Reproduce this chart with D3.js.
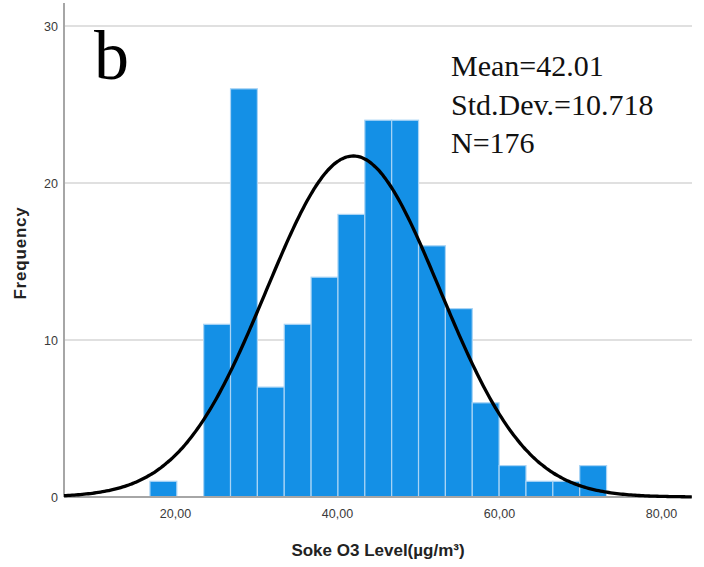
<!DOCTYPE html>
<html>
<head>
<meta charset="utf-8">
<script src="https://cdn.jsdelivr.net/npm/d3@7"></script>
<style>
    body { margin: 0; background: #ffffff; }
    svg { display: block; }
</style>
</head>
<body>
<div id="chart"></div>
<script>
// histogram data
var binStart = 16.91;
var binWidth = 3.316;
var counts = [1, 0, 11, 26, 7, 11, 14, 18, 24, 24, 16, 12, 6, 2, 1, 1, 2];
var xTicks = [20, 40, 60, 80];
var yTicks = [0, 10, 20, 30];
var meanVal = 42.01;
var sdVal = 10.718;
var nVal = 176;
var statLines = ["Mean=42.01", "Std.Dev.=10.718", "N=176"];

var width = 704, height = 567;

var svg = d3.select("#chart")
    .append("svg")
    .attr("width", width)
    .attr("height", height);

var x = d3.scaleLinear().domain([6.3, 83.83]).range([64, 692]);
var y = d3.scaleLinear().domain([0, 30]).range([497, 26]);

// gridlines
svg.append("g")
    .selectAll("line")
    .data(yTicks.filter(function(d){ return d > 0; }))
    .enter()
    .append("line")
    .attr("x1", x(6.3))
    .attr("x2", x(83.83))
    .attr("y1", function(d){ return y(d); })
    .attr("y2", function(d){ return y(d); })
    .attr("stroke", "#d6d6d6")
    .attr("stroke-width", 1.5);

// bars
var bins = counts.map(function(c, i){
    return {x0: binStart + i * binWidth, x1: binStart + (i + 1) * binWidth, n: c};
});

svg.append("g")
    .selectAll("rect")
    .data(bins.filter(function(d){ return d.n > 0; }))
    .enter()
    .append("rect")
    .attr("x", function(d){ return x(d.x0); })
    .attr("width", function(d){ return x(d.x1) - x(d.x0); })
    .attr("y", function(d){ return y(d.n); })
    .attr("height", function(d){ return y(0) - y(d.n); })
    .attr("fill", "#1490e6")
    .attr("stroke", "#a9d4f5")
    .attr("stroke-width", 1.2);

// axes
var yAxis = d3.axisLeft(y).tickValues(yTicks).tickSize(0).tickPadding(6);
var gy = svg.append("g")
    .attr("transform", "translate(" + x(6.3) + ",0)")
    .call(yAxis);
gy.select(".domain").remove();
gy.selectAll("text")
    .attr("font-family", "Liberation Sans, Arial, sans-serif")
    .attr("font-size", 12.5)
    .attr("fill", "#3a3a3a");

var xAxis = d3.axisBottom(x).tickValues(xTicks).tickSize(0).tickPadding(12)
    .tickFormat(function(d){ return d3.format(".2f")(d).replace(".", ","); });
var gx = svg.append("g")
    .attr("transform", "translate(0," + y(0) + ")")
    .call(xAxis);
gx.select(".domain").remove();
gx.selectAll("text")
    .attr("font-family", "Liberation Sans, Arial, sans-serif")
    .attr("font-size", 12.5)
    .attr("fill", "#3a3a3a");

svg.append("line")
    .attr("x1", x(6.3)).attr("x2", x(6.3))
    .attr("y1", y(31.46)).attr("y2", y(0))
    .attr("stroke", "#a6a6a6")
    .attr("stroke-width", 2);

svg.append("line")
    .attr("x1", x(6.3)).attr("x2", x(83.83))
    .attr("y1", y(0)).attr("y2", y(0))
    .attr("stroke", "#a6a6a6")
    .attr("stroke-width", 2);

// normal curve
var curvePts = d3.range(6.3, 83.84, 0.25).map(function(v){
    var z = (v - meanVal) / sdVal;
    return [v, nVal * binWidth * Math.exp(-0.5 * z * z) / (sdVal * Math.sqrt(2 * Math.PI))];
});

svg.append("path")
    .datum(curvePts)
    .attr("fill", "none")
    .attr("stroke", "#000")
    .attr("stroke-width", 3.3)
    .attr("d", d3.line()
        .x(function(d){ return x(d[0]); })
        .y(function(d){ return y(d[1]); })
        .curve(d3.curveBasis));

// axis titles
svg.append("text")
    .attr("x", 378)
    .attr("y", 556)
    .attr("text-anchor", "middle")
    .attr("font-family", "Liberation Sans, Arial, sans-serif")
    .attr("font-weight", "bold")
    .attr("font-size", 17)
    .attr("fill", "#222")
    .text("Soke O3 Level(µg/m³)");

svg.append("text")
    .attr("transform", "translate(26,253) rotate(-90)")
    .attr("text-anchor", "middle")
    .attr("font-family", "Liberation Sans, Arial, sans-serif")
    .attr("font-weight", "bold")
    .attr("font-size", 17)
    .attr("letter-spacing", 0.8)
    .attr("fill", "#222")
    .text("Frequency");

// panel letter
svg.append("text")
    .attr("x", 94)
    .attr("y", 79)
    .attr("font-family", "Liberation Serif, serif")
    .attr("font-size", 70)
    .attr("fill", "#000")
    .text("b");

// stats box
svg.append("g")
    .selectAll("text")
    .data(statLines)
    .enter()
    .append("text")
    .attr("x", 451)
    .attr("y", function(d, i){ return 76 + i * 38.5; })
    .attr("font-family", "Liberation Serif, serif")
    .attr("font-size", 30)
    .attr("fill", "#111")
    .text(function(d){ return d; });
</script>
</body>
</html>
